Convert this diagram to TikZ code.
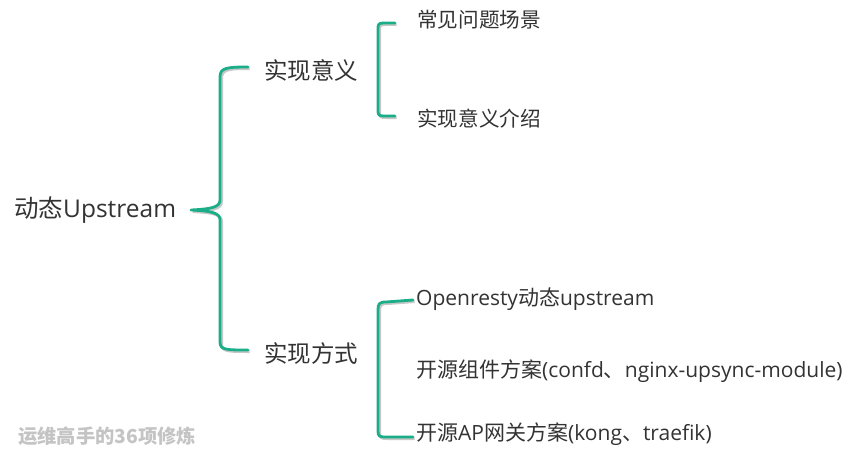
\documentclass[tikz,border=0pt]{standalone}
\usepackage{fontspec}
\setmainfont{Open Sans}
\newfontfamily\cjk{Noto Sans CJK SC}
\usetikzlibrary{calc}
\definecolor{brc}{HTML}{1AAE88}
\definecolor{txt}{HTML}{333333}
\definecolor{wmc}{HTML}{C4C4C4}
\begin{document}
\begin{tikzpicture}[x=1pt,y=-1pt,
  brace/.style={draw=brc, line width=2.8pt, line cap=round, line join=round,
    preaction={draw=black!22, line width=2.8pt, transform canvas={shift={(1.6pt,-1.6pt)}}}},
  rootnode/.style={anchor=west, inner sep=0pt, text=txt, font=\fontsize{24.5}{28}\selectfont},
  lvlone/.style={anchor=west, inner sep=0pt, text=txt, font=\cjk\fontsize{23.5}{27}\selectfont},
  lvltwo/.style={anchor=west, inner sep=0pt, text=txt, font=\fontsize{21}{24}\selectfont},
  wmark/.style={anchor=west, inner sep=0pt, text=wmc, font=\cjk\bfseries\fontsize{19.3}{23}\selectfont}]
\useasboundingbox[fill=white] (0,0) rectangle (862,460);

\node[rootnode] (root) at (14,210) {{\cjk 动态}Upstream};
\node[lvlone] (a) at (264,70) {实现意义};
\node[lvlone] (b) at (264,354) {实现方式};
\node[lvltwo, font=\cjk\fontsize{20.6}{24}\selectfont] (a1) at (417,20) {常见问题场景};
\node[lvltwo, font=\cjk\fontsize{20.6}{24}\selectfont] (a2) at (417,119) {实现意义介绍};
\node[lvltwo] (b1) at (416,299) {Openresty{\cjk 动态}upstream};
\node[lvltwo] (b2) at (416,371) {{\cjk 开源组件方案}(confd{\cjk 、}nginx-upsync-module)};
\node[lvltwo] (b3) at (416,434) {{\cjk 开源}AP{\cjk 网关方案}(kong{\cjk 、}traefik)};
\node[wmark] (wm) at (18,436) {运维高手的36项修炼};

% big brace
\coordinate (tip) at (191,210);
\draw[brace] ($(a.west)+(-16,-3)$) .. controls (226,67) and (220,68) .. (220,77)
  -- (220,200) .. controls (220,207) and (212,209) .. (tip)
  .. controls (212,211) and (220,213) .. (220,220)
  -- (220,342) .. controls (220,350) and (226,350) .. ($(b.west)+(-16,-4)$);

% top small bracket
\draw[brace] ($(a1.west)+(-22,3)$) -- (384,23) .. controls (379,23) and (378,24) .. (378,28)
  -- (378,111) .. controls (378,115) and (379,116) .. (384,116) -- ($(a2.west)+(-22,-3)$);

% bottom small bracket
\draw[brace] ($(b1.west)+(-3,1)$) -- (386,302) .. controls (379,302) and (378,304) .. (378,310)
  -- (378,431) .. controls (378,436) and (379,437) .. (386,437) -- ($(b3.west)+(-3,3)$);
\end{tikzpicture}
\end{document}
